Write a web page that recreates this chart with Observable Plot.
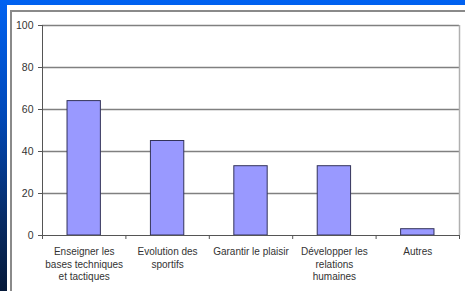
<!DOCTYPE html>
<html>
<head>
<meta charset="utf-8">
<script src="https://cdn.jsdelivr.net/npm/d3@7"></script>
<script src="https://cdn.jsdelivr.net/npm/@observablehq/plot@0.6"></script>
<style>
  html, body { margin: 0; padding: 0; }
  body {
    width: 465px; height: 291px; overflow: hidden; position: relative;
    background: linear-gradient(to bottom, #0062f2 0%, #0048b8 40%, #082c66 75%, #061a3a 100%);
  }
  #panel {
    position: absolute; left: 7px; top: 5px; width: 458px; height: 286px;
    background: #ffffff;
  }
  #frame {
    position: absolute; left: 10px; top: 10px; width: 455px; height: 281px;
    border-left: 2px solid #8a8a8a; border-top: 2px solid #8a8a8a;
    box-sizing: border-box;
  }
  #chart { position: absolute; left: 0; top: 0; }
</style>
</head>
<body>
<div id="panel"></div>
<div id="frame"></div>
<div id="chart"></div>
<script>
const categories = [
  "Enseigner les\nbases techniques\net tactiques",
  "Evolution des\nsportifs",
  "Garantir le plaisir",
  "Développer les\nrelations\nhumaines",
  "Autres"
];
const values = [64, 45, 33, 33, 3];
const yTicks = [0, 20, 40, 60, 80, 100];

const data = categories.map((c, i) => ({label: c, value: values[i], i}));
const boundaries = d3.range(categories.length + 1);

const chart = Plot.plot({
  width: 465,
  height: 291,
  marginLeft: 42,
  marginTop: 25,
  marginRight: 6,
  marginBottom: 56,
  style: {background: "transparent", fontFamily: "'Liberation Sans', Arial, sans-serif", fontSize: "10px", color: "#333"},
  x: {domain: [0, categories.length]},
  y: {domain: [0, 100]},
  marks: [
    Plot.ruleY(yTicks.filter(d => d > 0), {stroke: "#808080", strokeWidth: 1.3, strokeOpacity: 1}),
    Plot.ruleX([categories.length], {y1: 0, y2: 100, stroke: "#b0b0b0", strokeWidth: 1.5}),
    Plot.rectY(data, {x1: d => d.i + 0.3, x2: d => d.i + 0.7, y: "value", fill: "#9999ff", stroke: "#33335a", strokeWidth: 1}),
    Plot.ruleX([0], {y1: 0, y2: 100, stroke: "#555", strokeWidth: 1}),
    Plot.ruleY([0], {stroke: "#555", strokeWidth: 1}),
    Plot.axisY({ticks: yTicks, tickSize: 4, tickPadding: 5, stroke: "#555", strokeOpacity: 1, fill: "#333", fontSize: 10.5, label: null}),
    Plot.axisX({ticks: boundaries, tickSize: 4, tickFormat: () => "", stroke: "#555", strokeOpacity: 1, label: null}),
    Plot.text(data, {x: d => d.i + 0.5, y: 0, text: "label", lineAnchor: "top", dy: 11, lineHeight: 1.25, fill: "#333", fontSize: 10})
  ]
});

document.getElementById("chart").appendChild(chart);
</script>
</body>
</html>
